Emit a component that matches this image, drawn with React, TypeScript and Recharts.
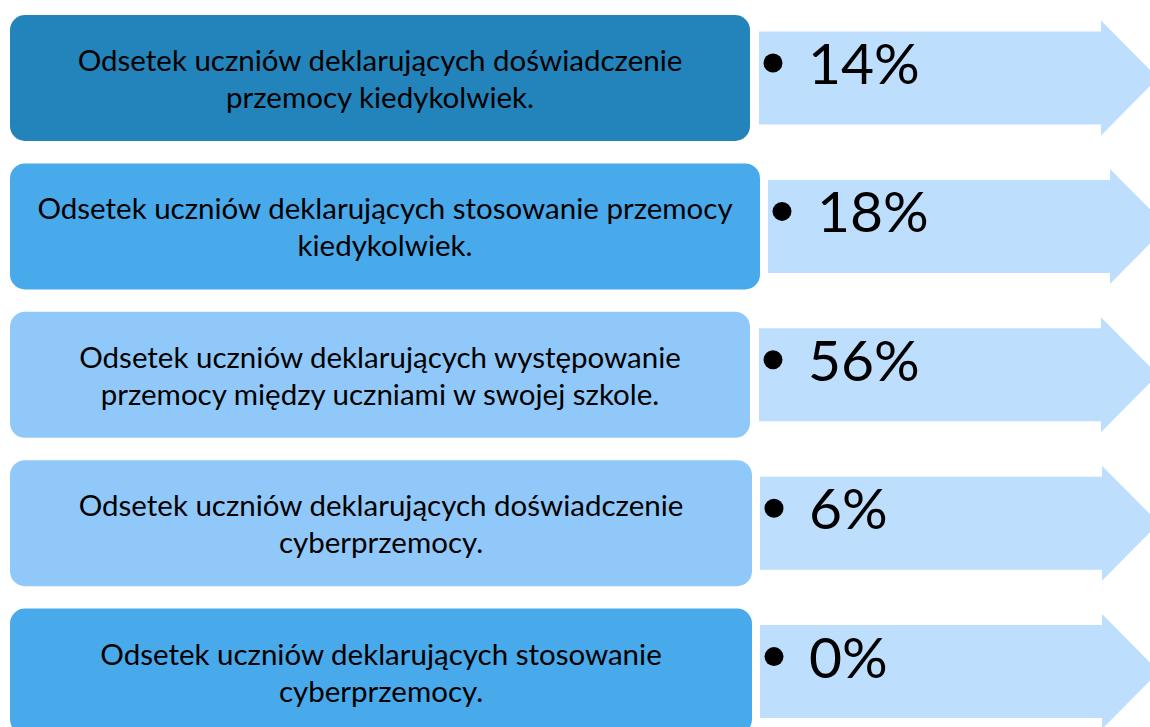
import React from 'react';
import { BarChart, Bar, XAxis, YAxis } from 'recharts';

// rows, top to bottom
const categories = ['r1', 'r2', 'r3', 'r4', 'r5'];
const labelLines = [
  ['Odsetek uczniów deklarujących doświadczenie', 'przemocy kiedykolwiek.'],
  ['Odsetek uczniów deklarujących stosowanie przemocy', 'kiedykolwiek.'],
  ['Odsetek uczniów deklarujących występowanie', 'przemocy między uczniami w swojej szkole.'],
  ['Odsetek uczniów deklarujących doświadczenie', 'cyberprzemocy.'],
  ['Odsetek uczniów deklarujących stosowanie', 'cyberprzemocy.'],
];
const percents = [14, 18, 56, 6, 0];

// styles
const boxColors = ['#2284BA', '#48A9EB', '#90C9F9', '#90C9F9', '#48A9EB'];
const ARROW_COLOR = '#BDDEFD';
const FONT = 'Lato, "Open Sans", sans-serif';

// horizontal layout (1 axis unit = 1px)
const LEAD = 10;
const boxSpans = [740, 750, 740, 742, 742];
const gapSpans = [9, 8, 9, 8, 8];
const ARROW_SPAN = 399;

const rows = categories.map((name, i) => ({
  name,
  lines: labelLines[i],
  pct: percents[i],
  color: boxColors[i],
  lead: LEAD,
  box: boxSpans[i],
  gap: gapSpans[i],
  arrow: ARROW_SPAN,
}));

// eslint-disable-next-line @typescript-eslint/no-explicit-any
function BoxShape(props: any) {
  const { x, y, width, height, payload } = props;
  const cy = y + height / 2;
  const cx = x + width / 2;
  return (
    <g>
      <rect x={x} y={y} width={width} height={height} rx={15} ry={15} fill={payload.color} />
      <text
        x={cx}
        textAnchor="middle"
        fontFamily={FONT}
        fontSize={29.5}
        fill="#000"
      >
        <tspan x={cx} y={cy - 18.5} dominantBaseline="central">
          {payload.lines[0]}
        </tspan>
        <tspan x={cx} y={cy + 18.5} dominantBaseline="central">
          {payload.lines[1]}
        </tspan>
      </text>
    </g>
  );
}

// eslint-disable-next-line @typescript-eslint/no-explicit-any
function ArrowShape(props: any) {
  const { x, y, width, height, payload } = props;
  const cy = y + height / 2;
  const body = 46.5;
  const head = 57.5;
  const headLen = 57;
  const hx = x + width - headLen;
  const d = [
    `M${x},${cy - body}`,
    `L${hx},${cy - body}`,
    `L${hx},${cy - head}`,
    `L${x + width},${cy}`,
    `L${hx},${cy + head}`,
    `L${hx},${cy + body}`,
    `L${x},${cy + body}`,
    'Z',
  ].join(' ');
  return (
    <g>
      <path d={d} fill={ARROW_COLOR} />
      <circle cx={x + 14} cy={cy - 15} r={9.5} fill="#000" />
      <text x={x + 49} y={cy + 6} fontFamily={FONT} fontSize={57} fill="#000">
        {`${payload.pct}%`}
      </text>
    </g>
  );
}

export default function App() {
  return (
    <div
      style={{
        position: 'absolute',
        left: 0,
        top: 0,
        width: 1150,
        height: 727,
        overflow: 'hidden',
        background: '#fff',
      }}
    >
      <BarChart
        width={1170}
        height={750}
        data={rows}
        layout="vertical"
        margin={{ top: 4, right: 0, bottom: 4, left: 0 }}
        barSize={126}
      >
        <XAxis type="number" domain={[0, 1170]} hide />
        <YAxis type="category" dataKey="name" hide width={0} />
        <Bar dataKey="lead" stackId="r" fill="none" isAnimationActive={false} />
        <Bar dataKey="box" stackId="r" shape={<BoxShape />} isAnimationActive={false} />
        <Bar dataKey="gap" stackId="r" fill="none" isAnimationActive={false} />
        <Bar dataKey="arrow" stackId="r" shape={<ArrowShape />} isAnimationActive={false} />
      </BarChart>
    </div>
  );
}
